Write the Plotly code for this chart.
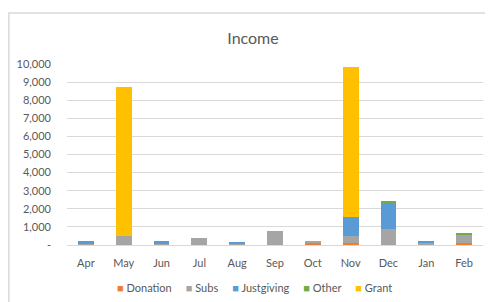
import plotly.graph_objects as go

months = ["Apr", "May", "Jun", "Jul", "Aug", "Sep", "Oct", "Nov", "Dec", "Jan", "Feb"]
donation = [0, 0, 0, 0, 0, 0, 130, 100, 0, 0, 130]
subs = [80, 500, 80, 400, 70, 750, 110, 400, 900, 120, 470]
justgiving = [120, 0, 130, 0, 120, 0, 0, 1050, 1450, 90, 0]
other = [0, 0, 0, 0, 0, 0, 0, 0, 50, 0, 60]
grant = [0, 8250, 0, 0, 0, 0, 0, 8300, 0, 0, 0]

tick_vals = [0, 1000, 2000, 3000, 4000, 5000, 6000, 7000, 8000, 9000, 10000]
tick_text = ["-", "1,000", "2,000", "3,000", "4,000", "5,000", "6,000", "7,000", "8,000", "9,000", "10,000"]

series = [
    ("Donation", donation, "#ED7D31"),
    ("Subs", subs, "#A5A5A5"),
    ("Justgiving", justgiving, "#5B9BD5"),
    ("Other", other, "#70AD47"),
    ("Grant", grant, "#FFC000"),
]

fig = go.Figure()
for name, vals, col in series:
    fig.add_trace(go.Bar(x=months, y=vals, name=name, marker=dict(color=col, line=dict(width=0))))

# page body has an 8px margin; target screen coords are shifted by OFF
OFF = 8
W, H = 493 - OFF, 302 - OFF
L, T = 67 - OFF, 64 - OFF
R = W - (483 - OFF)
B = H - (245 - OFF)
pw = W - L - R
ph = H - T - B

def px(x):
    return (x - OFF - L) / pw

def py(y):
    return (H - B - (y - OFF)) / ph

legend_text = "&nbsp;&nbsp;&nbsp;&nbsp;&nbsp;".join(
    f'<span style="color:{col}">■</span> {name}' for name, _, col in series
)

fig.update_layout(
    width=W, height=H,
    barmode="stack",
    bargap=0.58,
    plot_bgcolor="white",
    paper_bgcolor="white",
    margin=dict(l=L, r=R, t=T, b=B, autoexpand=False),
    font=dict(family="Lato", color="#595959", size=10),
    title=dict(text="Income", x=(253 - OFF) / W, xanchor="center", y=1 - (38 - OFF) / H, yanchor="middle",
               font=dict(size=16, color="#595959")),
    xaxis=dict(showgrid=False, showline=True, linecolor="#D9D9D9", ticks="", automargin=False,
               ticklabelstandoff=8, tickfont=dict(size=11, color="#595959")),
    yaxis=dict(range=[0, 10000], tickvals=tick_vals, ticktext=tick_text, showgrid=True,
               gridcolor="#D9D9D9", gridwidth=1, zeroline=False, showline=False, automargin=False,
               ticklabelstandoff=15, tickfont=dict(size=11, color="#595959"), ticks=""),
    showlegend=False,
    annotations=[dict(text=legend_text, xref="paper", yref="paper", x=px(254), y=py(287),
                      xanchor="center", yanchor="middle", showarrow=False,
                      font=dict(size=11, color="#595959"))],
    shapes=[dict(type="rect", xref="paper", yref="paper", x0=px(8.8), y0=py(330), x1=px(520), y1=py(13),
                 line=dict(color="#D9D9D9", width=1.5), layer="below")],
)

fig.write_html("out.html")
